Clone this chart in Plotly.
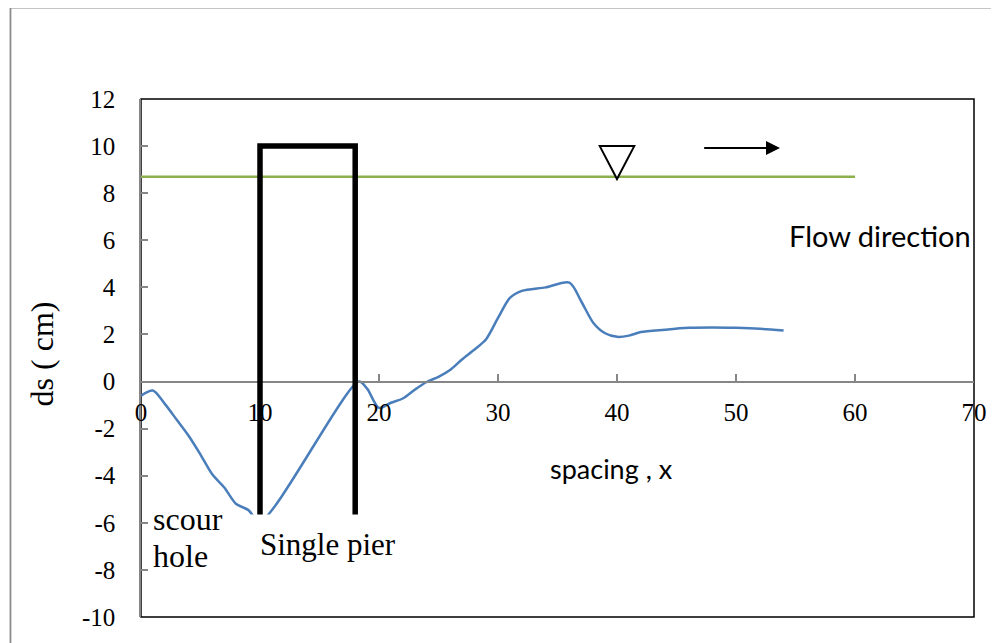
import plotly.graph_objects as go

# ---- data ----
spacing_x = [0, 1, 2, 3, 4, 5, 6, 7, 8, 9, 10, 18.3, 19, 20, 21, 22, 23, 24, 25, 26,
             27, 28, 29, 30, 31, 32, 34, 36, 37, 38, 39, 40, 41, 42, 44, 46, 48, 50, 52, 54]
ds_cm = [-0.6, -0.38, -0.95, -1.62, -2.3, -3.1, -3.95, -4.5, -5.2, -5.45, -5.95, 0.0, -0.3,
         -1.12, -0.9, -0.72, -0.35, -0.02, 0.2, 0.5, 0.95, 1.35, 1.8, 2.7, 3.55, 3.85, 4.0,
         4.2, 3.4, 2.5, 2.05, 1.9, 1.95, 2.1, 2.2, 2.28, 2.3, 2.28, 2.24, 2.17]

water_x = [0, 60]
water_y = [8.7, 8.7]

pier_x = [10, 18]
pier_top = 10
pier_bottom = -5.65

x_ticks = [0, 10, 20, 30, 40, 50, 60, 70]
y_ticks = [-10, -8, -6, -4, -2, 0, 2, 4, 6, 8, 10, 12]

tri_cx, tri_top, tri_tip, tri_half = 40, 10.0, 8.6, 1.45
arrow_x0, arrow_x1, arrow_y = 47.2, 53.7, 9.92

x_range = [0, 70]
y_range = [-10, 12]

SERIF = "Liberation Serif"
SANS = "Lato"

fig = go.Figure()
fig.add_trace(go.Scatter(x=water_x, y=water_y, mode="lines",
                         line=dict(color="#8DB04F", width=2.5), hoverinfo="skip"))
fig.add_trace(go.Scatter(x=spacing_x, y=ds_cm, mode="lines",
                         line=dict(color="#4A7EBB", width=2.5, shape="spline", smoothing=0.8)))

# page pixel layout (the html body has an 8px margin)
OFF = 8
PAGE_W, PAGE_H = 999, 643
PL, PR, PT, PB = 141, 977, 99, 621
W, H = PAGE_W - OFF, PAGE_H - OFF
L, T = PL - OFF, PT - OFF
R, B = W - (PR - OFF), H - (PB - OFF)
pw, ph = PR - PL, PB - PT

def px_x(p):
    return (p - PL) / pw

def px_y(p):
    return (PB - p) / ph

shapes = []
# outer chart border
shapes.append(dict(type="rect", xref="paper", yref="paper",
                   x0=px_x(10), x1=px_x(1010), y0=px_y(660), y1=px_y(7),
                   line=dict(color="#8C8C8C", width=1.8), layer="below"))
# plot area frame
shapes.append(dict(type="rect", xref="x domain", yref="y domain", x0=0, x1=1, y0=0, y1=1,
                   line=dict(color="black", width=1.5), layer="below"))
# white text-box cover
shapes.append(dict(type="rect", xref="x", yref="y", x0=0.65, x1=22.5, y0=-9.6, y1=pier_bottom,
                   fillcolor="white", line=dict(width=0), layer="above"))
# pier
shapes.append(dict(type="path", xref="x", yref="y",
                   path=f"M{pier_x[0]},{pier_bottom} L{pier_x[0]},{pier_top} L{pier_x[1]},{pier_top} L{pier_x[1]},{pier_bottom}",
                   line=dict(color="black", width=5.5), layer="above"))
# water-surface triangle
shapes.append(dict(type="path", xref="x", yref="y",
                   path=f"M{tri_cx - tri_half},{tri_top} L{tri_cx + tri_half},{tri_top} L{tri_cx},{tri_tip} Z",
                   line=dict(color="black", width=2), fillcolor="white", layer="above"))

annotations = [
    dict(x=arrow_x1, y=arrow_y, ax=arrow_x0, ay=arrow_y, xref="x", yref="y", axref="x", ayref="y",
         text="", showarrow=True, arrowhead=2, arrowsize=1.4, arrowwidth=2, arrowcolor="black"),
    dict(x=px_x(789), y=px_y(237), xref="paper", yref="paper", xanchor="left", yanchor="middle",
         text="Flow direction", showarrow=False, font=dict(family=SANS, size=29, color="black")),
    dict(x=px_x(613), y=px_y(471), xref="paper", yref="paper", xanchor="center", yanchor="middle",
         text="spacing , x", showarrow=False, font=dict(family=SANS, size=27, color="black")),
    dict(x=px_x(151), y=px_y(522), xref="paper", yref="paper", xanchor="left", yanchor="middle",
         text="scour", showarrow=False, font=dict(family=SERIF, size=32, color="black")),
    dict(x=px_x(151), y=px_y(560), xref="paper", yref="paper", xanchor="left", yanchor="middle",
         text="hole", showarrow=False, font=dict(family=SERIF, size=32, color="black")),
    dict(x=px_x(258), y=px_y(548), xref="paper", yref="paper", xanchor="left", yanchor="middle",
         text="Single pier", showarrow=False, font=dict(family=SERIF, size=31, color="black")),
    dict(x=px_x(42), y=px_y(356), xref="paper", yref="paper", xanchor="center", yanchor="middle",
         text="ds ( cm)", textangle=-90, showarrow=False, font=dict(family=SERIF, size=32, color="black")),
]

fig.update_layout(
    width=W, height=H,
    margin=dict(l=L, r=R, t=T, b=B, pad=0),
    paper_bgcolor="white", plot_bgcolor="white",
    showlegend=False,
    shapes=shapes, annotations=annotations,
    xaxis=dict(range=x_range, tickmode="array", tickvals=x_ticks, ticktext=[str(v) for v in x_ticks],
               anchor="free", position=(0 - y_range[0]) / (y_range[1] - y_range[0]),
               showline=True, linecolor="#868686", linewidth=1.5,
               ticks="inside", ticklen=7, tickwidth=1.5, tickcolor="#868686",
               showgrid=False, zeroline=False, ticklabelstandoff=9,
               tickfont=dict(family=SERIF, size=25, color="black")),
    yaxis=dict(range=y_range, tickmode="array", tickvals=y_ticks, ticktext=[str(v) for v in y_ticks],
               showline=True, linecolor="#868686", linewidth=1.5,
               ticks="inside", ticklen=7, tickwidth=1.5, tickcolor="#868686",
               showgrid=False, zeroline=False, ticklabelstandoff=19,
               tickfont=dict(family=SERIF, size=25, color="black")),
)

fig.write_html("out.html")
